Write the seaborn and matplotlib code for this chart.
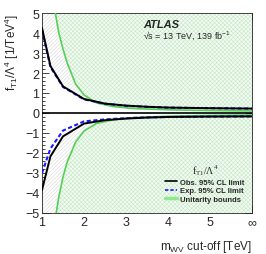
import numpy as np
import pandas as pd
import matplotlib
matplotlib.use("Agg")
import matplotlib.pyplot as plt
from matplotlib.lines import Line2D
from matplotlib.ticker import MultipleLocator
import seaborn as sns

# cut-off values (6 = no cut-off, drawn as infinity)
cutoff = [1.0, 1.2, 1.5, 2.0, 2.5, 3.0, 3.5, 4.0, 5.0, 6.0]
obs_up = [4.25, 2.35, 1.33, 0.70, 0.47, 0.37, 0.31, 0.27, 0.24, 0.22]
obs_lo = [-3.85, -2.17, -1.17, -0.53, -0.36, -0.28, -0.23, -0.20, -0.18, -0.17]
exp_up = [4.15, 2.30, 1.30, 0.68, 0.46, 0.36, 0.31, 0.27, 0.24, 0.22]
exp_lo = [-3.00, -1.78, -0.88, -0.42, -0.32, -0.26, -0.22, -0.20, -0.18, -0.17]

# unitarity bounds
unit_x = [1.3, 1.4, 1.5, 1.6, 1.8, 2.0, 2.3, 2.7, 3.2, 4.0, 5.0, 6.0]
unit_up = [5.2, 4.0, 3.2, 2.5, 1.45, 0.9, 0.5, 0.32, 0.22, 0.16, 0.12, 0.10]
unit_lo = [-5.5, -4.2, -3.2, -2.45, -1.45, -0.9, -0.52, -0.34, -0.23, -0.16, -0.12, -0.10]

xtick_labels = ["1", "2", "3", "4", "5", "\u221e"]

sns.set_style("ticks")
plt.rcParams["font.family"] = ["Liberation Sans", "DejaVu Sans"]
plt.rcParams["mathtext.fontset"] = "custom"
plt.rcParams["mathtext.rm"] = "Liberation Sans"
plt.rcParams["hatch.linewidth"] = 0.35

fig = plt.figure(figsize=(2.66, 2.55), dpi=100)
ax = fig.add_axes([0.158, 0.161, 0.789, 0.784])

df = pd.DataFrame({"x": cutoff, "obs_up": obs_up, "obs_lo": obs_lo,
                   "exp_up": exp_up, "exp_lo": exp_lo})
du = pd.DataFrame({"x": unit_x, "up": unit_up, "lo": unit_lo})

# excluded by data: grey hatch
ax.fill_between(df["x"], df["obs_up"], 5, facecolor="white", edgecolor="#d2d2d2",
                hatch="/" * 9, linewidth=0, zorder=1)
ax.fill_between(df["x"], df["obs_lo"], -5, facecolor="white", edgecolor="#d2d2d2",
                hatch="/" * 9, linewidth=0, zorder=1)
# beyond unitarity: green cross hatch
ax.fill_between(du["x"], du["up"], 5, facecolor="#f4fbf4", edgecolor="#bfe6bf",
                hatch="x" * 8, linewidth=0, zorder=2)
ax.fill_between(du["x"], du["lo"], -5, facecolor="#f4fbf4", edgecolor="#bfe6bf",
                hatch="x" * 8, linewidth=0, zorder=2)

green = "#55d055"
sns.lineplot(data=du, x="x", y="up", ax=ax, color=green, lw=1.2, zorder=3)
sns.lineplot(data=du, x="x", y="lo", ax=ax, color=green, lw=1.2, zorder=3)
sns.lineplot(data=df, x="x", y="exp_up", ax=ax, color="#1a1aff", lw=1.5,
             dashes=(2, 1.2), zorder=4)
sns.lineplot(data=df, x="x", y="exp_lo", ax=ax, color="#1a1aff", lw=1.5,
             dashes=(2, 1.2), zorder=4)
sns.lineplot(data=df, x="x", y="obs_up", ax=ax, color="black", lw=1.4, zorder=5)
sns.lineplot(data=df, x="x", y="obs_lo", ax=ax, color="black", lw=1.4, zorder=5)
ax.axhline(0, color="black", lw=1.2, zorder=6)

ax.set_xlim(1, 6)
ax.set_ylim(-5, 5)
ax.set_xticks(range(1, 7))
ax.set_xticklabels(xtick_labels)
ax.xaxis.set_minor_locator(MultipleLocator(0.2))
ax.yaxis.set_major_locator(MultipleLocator(1))
ax.yaxis.set_minor_locator(MultipleLocator(0.2))
ax.tick_params(which="both", direction="in", top=True, right=True, labelsize=9,
               width=0.6, pad=2)
ax.tick_params(which="major", length=5)
ax.tick_params(which="minor", length=2.5)
for s in ax.spines.values():
    s.set_linewidth(0.6)

ax.set_ylabel("f$_\\mathregular{T1}$/\u039b$^\\mathregular{4}$ [1/TeV$^\\mathregular{4}$]",
              fontsize=8.5, loc="top", va="center")
ax.yaxis.set_label_coords(-0.145, 1.0)
ax.set_xlabel("m$_\\mathregular{WV}$ cut-off [TeV]", fontsize=8.5, loc="right")
ax.xaxis.set_label_coords(1.0, -0.125)

ax.text(0.48, 0.945, "ATLAS", transform=ax.transAxes, fontsize=8,
        fontweight="bold", fontstyle="italic", va="center")
ax.text(0.48, 0.89, "\u221as = 13 TeV, 139 fb$^\\mathregular{-1}$", transform=ax.transAxes,
        fontsize=6.5, va="center")

handles = [Line2D([], [], color="black", lw=1.2),
           Line2D([], [], color="#1a1aff", lw=1.2, dashes=(2, 1.2)),
           Line2D([], [], color="#90e890", lw=2.5)]
labels = ["Obs. 95% CL limit", "Exp. 95% CL limit", "Unitarity bounds"]
leg = ax.legend(handles, labels, loc="upper left", bbox_to_anchor=(0.56, 0.28),
                frameon=False, prop={"size": 5.5, "weight": "bold"},
                handlelength=1.6, handletextpad=0.4, labelspacing=0.15,
                borderpad=0.2,
                title="f$_\\mathregular{T1}$/\u039b$^\\mathregular{4}$")
leg.get_title().set_fontfamily("Liberation Serif")
leg.get_title().set_fontsize(7)
leg.set_zorder(10)

fig.savefig("out.png", dpi=100)
